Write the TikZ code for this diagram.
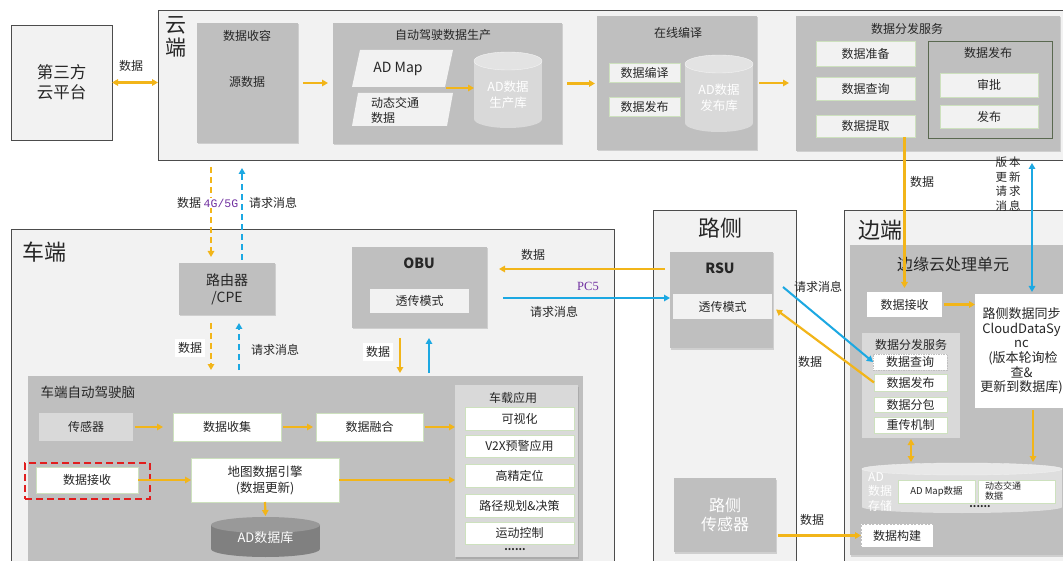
\documentclass[tikz,border=0pt]{standalone}
\usepackage{fontspec}
\setmainfont{Noto Sans CJK SC}
\newfontfamily\monof{Liberation Mono}
\newfontfamily\seriff{Liberation Serif}
\usetikzlibrary{fit,shadows,arrows.meta}
\definecolor{ora}{RGB}{242,181,25}
\definecolor{blu}{RGB}{28,168,226}
\definecolor{regfill}{RGB}{242,242,242}
\definecolor{gbox}{RGB}{191,191,191}
\definecolor{lbox}{RGB}{217,217,217}
\definecolor{itemb}{RGB}{205,225,190}
\definecolor{txt}{RGB}{38,38,38}
\definecolor{purp}{RGB}{112,48,160}
\definecolor{reddash}{RGB}{225,30,30}
\definecolor{fbgreen}{RGB}{90,105,80}
\begin{document}
\begin{tikzpicture}[x=1pt,y=-1pt, font=\fontsize{12}{14}\selectfont, text=txt,
 bx/.style={inner sep=0pt, outer sep=0pt},
 lblin/.style={align=center, inner sep=0pt, text=txt},
 tx/.style={label={[lblin]center:#1}},
 region/.style={bx, draw=black!70, line width=0.7pt, fill=regfill},
 shad/.style={drop shadow={shadow xshift=1pt, shadow yshift=-1.5pt, opacity=0.3}},
 gbx/.style={bx, fill=gbox, shad},
 lbx/.style={bx, fill=lbox},
 itm/.style={bx, fill=white, draw=itemb, line width=0.8pt},
 citm/.style={bx, fill=regfill, draw=itemb, line width=0.8pt},
 oarr/.style={draw=ora, line width=2.2pt, -{Triangle[length=6pt,width=6.5pt]}},
 oboth/.style={draw=ora, line width=2.2pt, {Triangle[length=6pt,width=6.5pt]}-{Triangle[length=6pt,width=6.5pt]}},
 barr/.style={draw=blu, line width=2pt, -{Triangle[length=6pt,width=6.5pt]}},
 bboth/.style={draw=blu, line width=2pt, {Triangle[length=6pt,width=6.5pt]}-{Triangle[length=6pt,width=6.5pt]}},
 odash/.style={oarr, dash pattern=on 6pt off 4pt},
 bdash/.style={barr, dash pattern=on 6pt off 4pt},
 lbl/.style={inner sep=1pt},
 big/.style={font=\fontsize{22}{24}\selectfont},
]
\path[use as bounding box] (0,0) rectangle (1063,561);
\clip (0,0) rectangle (1063,561);
\fill[white] (0,0) rectangle (1063,561);

% ---------------- cloud ----------------
\node[region, fit={(158,10)(1075,160)}] (cloud) {};
\node[font=\fontsize{21}{23}\selectfont, align=center, anchor=north, inner sep=0pt] (cloudlbl) at (176,16) {云\\端};
\node[region, shad, fit={(11,25)(112,140)}, label={[lblin, font=\fontsize{16.5}{20}\selectfont]center:{第三方\\云平台}}] (third) {};
\draw[oboth] (third.east) -- (third.east -| cloud.west);
\node[lbl] (l1) at (131,66) {数据};

\node[gbx, fit={(197,23)(298,143)}] (shourong) {};
\node (shourongT) at (247,36) {数据收容};
\node (yuan) at (247,82) {源数据};

\node[gbx, fit={(333,23)(562,144)}] (adprod) {};
\node (adprodT) at (443,35) {自动驾驶数据生产};
\fill[regfill] (360,50) -- (453,50) -- (445,87) -- (352,87) -- cycle;
\node[font=\fontsize{14}{16}\selectfont] (admap) at (398,69) {AD Map};
\fill[regfill] (358,93) -- (453,93) -- (447,126) -- (352,126) -- cycle;
\node[align=left, anchor=west, inner sep=0pt, font=\fontsize{12}{15}\selectfont] (dyn1) at (371,110) {动态交通\\数据};
\coordinate (parjoin) at (446,88);
\fill[lbox] (474,61) rectangle (542,119);
\fill[lbox] (508,119) ellipse[x radius=34pt, y radius=9pt];
\fill[black!11, draw=white!70!lbox] (508,61) ellipse[x radius=34pt, y radius=9pt];
\node[bx, minimum width=68pt, minimum height=50pt, text=white, align=center, font=\fontsize{12.5}{16}\selectfont] (adprodlib) at (508,95) {AD数据\\生产库};
\draw[oarr] (parjoin) -- (adprodlib.west |- parjoin);

\node[gbx, fit={(597,16)(757,150)}] (compile) {};
\node (compileT) at (678,33) {在线编译};
\node[citm, fit={(609,63)(680,82)}, tx=数据编译] (bianyi) {};
\node[citm, fit={(609,97)(680,116)}, tx=数据发布] (cfabu) {};
\fill[lbox] (685,64) rectangle (753,123);
\fill[lbox] (719,123) ellipse[x radius=34pt, y radius=9pt];
\fill[black!11, draw=white!70!lbox] (719,64) ellipse[x radius=34pt, y radius=9pt];
\node[bx, minimum width=68pt, minimum height=50pt, text=white, align=center, font=\fontsize{12.5}{16}\selectfont] (publib) at (719,98) {AD数据\\发布库};

\node[gbx, fit={(796,16)(1060,151)}] (dist) {};
\node (distT) at (907,29) {数据分发服务};
\node[citm, fit={(816,41)(915,66)}, tx=数据准备] (zhunbei) {};
\node[citm, fit={(816,77)(915,100)}, tx=数据查询] (chaxun) {};
\node[citm, fit={(816,115)(915,137)}, tx=数据提取] (tiqu) {};
\node[bx, draw=fbgreen, line width=0.8pt, fit={(928,41)(1052,138)}] (fbbox) {};
\node (fbT) at (988,53) {数据发布};
\node[citm, fit={(940,73)(1038,97)}, tx=审批] (shenpi) {};
\node[citm, fit={(940,105)(1038,128)}, tx=发布] (fabu) {};

\draw[oarr, shorten <=5pt, shorten >=5pt] (shourong.east) -- (adprod.west |- shourong.east);
\draw[oarr, shorten <=5pt, shorten >=2pt] (adprod.east) -- (compile.west |- adprod.east);
\draw[oarr, shorten <=2pt, shorten >=7pt] (compile.east) -- (dist.west |- compile.east);

% ---------------- car ----------------
\node[region, fit={(11,229)(614,575)}] (car) {};
\node[big] (carlbl) at (45,252) {车端};
\node[gbx, fit={(179,263)(275,315)}, label={[lblin, font=\fontsize{14}{17}\selectfont]center:{路由器\\/CPE}}] (router) {};

\node[gbx, fit={(352,247)(487,328)}] (obu) {};
\node[font=\bfseries\fontsize{14}{16}\selectfont] (obuT) at (419,263) {OBU};
\node[bx, fill=regfill, fit={(370,289)(469,313)}, tx=透传模式] (obumode) {};

\node[bx, fill=gbox, fit={(28,376)(583,575)}] (brain) {};
\node[anchor=west, font=\fontsize{13.5}{15}\selectfont] (brainT) at (37,392) {车端自动驾驶脑};
\node[lbx, fit={(39,413)(133,441)}, tx=传感器] (cgq) {};
\node[itm, fit={(173,413)(281,441)}, tx=数据收集] (collect) {};
\node[itm, fit={(316,413)(423,441)}, tx=数据融合] (fuse) {};
\node[lbx, shad, fit={(455,385)(578,557)}] (apps) {};
\node (appsT) at (513,398) {车载应用};
\node[itm, fit={(465,407)(574,430)}, tx=可视化] (vis) {};
\node[itm, fit={(465,435)(574,457)}, tx=V2X预警应用] (v2x) {};
\node[itm, fit={(465,464)(574,487)}, tx=高精定位] (pos) {};
\node[itm, fit={(465,494)(574,517)}, tx=路径规划\&决策] (plan) {};
\node[itm, fit={(465,522)(574,544)}, tx=运动控制] (ctrl) {};
\node[font=\bfseries\fontsize{10}{10}\selectfont] (dots1) at (515,550) {......};
\node[itm, fit={(36,467)(138,493)}, tx=数据接收] (recv2) {};
\node[bx, draw=reddash, line width=2.2pt, dash pattern=on 7pt off 4pt, fit={(25,463)(150,499)}] (redbox) {};
\node[itm, fit={(191,458)(339,502)}, label={[lblin, font=\fontsize{12.5}{16}\selectfont]center:{地图数据引擎\\(数据更新)}}] (engine) {};
\fill[black!50] (211,525) rectangle (320,549);
\fill[black!50] (265.5,549) ellipse[x radius=54.5pt, y radius=8pt];
\fill[black!40] (265.5,525) ellipse[x radius=54.5pt, y radius=8pt];
\node[bx, minimum width=109pt, minimum height=42pt, text=white, font=\fontsize{13}{15}\selectfont] (addb) at (265.5,538) {AD数据库};

\draw[oarr, shorten <=2pt, shorten >=10pt] (cgq.east) -- (collect.west);
\draw[oarr, shorten <=2pt, shorten >=3pt] (collect.east) -- (fuse.west);
\draw[oarr, shorten <=2pt] (fuse.east) -- (apps.west |- fuse.east);
\draw[oarr] (recv2.east) -- (engine.west);
\draw[oarr] (engine.east) -- (apps.west |- engine.east);
\draw[oarr, shorten >=1pt] (engine.south) -- (addb.north);

% cloud <-> router
\coordinate (rA) at ([xshift=-16pt]router.north);
\coordinate (rB) at ([xshift=15pt]router.north);
\draw[odash, shorten <=7pt, shorten >=6pt] (rA |- cloud.south) -- (rA);
\draw[bdash, shorten <=3pt, shorten >=8pt] (rB) -- (rB |- cloud.south);
\node[lbl] (l2) at (189,203) {数据};
\node[lbl, fill=white, text=purp, font=\monof\fontsize{11.5}{13}\selectfont] (l3) at (221,203) {4G/5G};
\node[lbl] (l4) at (273,203) {请求消息};
% router <-> brain
\coordinate (rC) at ([xshift=-16pt]router.south);
\coordinate (rD) at ([xshift=12pt]router.south);
\draw[odash, shorten <=8pt, shorten >=6pt] (rC) -- (rC |- brain.north);
\draw[bdash, shorten <=6pt, shorten >=8pt] (rD |- brain.north) -- (rD);
\node[lbl, fill=white, inner sep=3pt] (l5) at (190,348) {数据};
\node[lbl] (l6) at (275,350) {请求消息};
% obu <-> brain
\coordinate (xo1) at (400,0);
\coordinate (xo2) at (429,0);
\draw[oarr, shorten <=10pt, shorten >=3pt] (obu.south -| xo1) -- (brain.north -| xo1);
\draw[barr, shorten <=3pt, shorten >=10pt] (brain.north -| xo2) -- (obu.south -| xo2);
\node[lbl, fill=white, inner sep=3pt] (l7) at (378,352) {数据};

% ---------------- roadside ----------------
\node[region, fit={(653,210)(796,575)}] (road) {};
\node[big] (roadlbl) at (720,228) {路侧};
\node[gbx, fit={(670,252)(773,348)}] (rsu) {};
\node[font=\bfseries\fontsize{14}{16}\selectfont] (rsuT) at (720,268) {RSU};
\node[bx, fill=regfill, fit={(673,294)(772,319)}, tx=透传模式] (rsumode) {};
\node[gbx, fit={(674,478)(776,552)}, label={[lblin, text=white, font=\fontsize{16}{19}\selectfont]center:{路侧\\传感器}}] (sensor) {};

\coordinate (yo) at (0,269);
\coordinate (yb) at (0,298);
\draw[oarr, shorten <=5pt, shorten >=12pt] (rsu.west |- yo) -- (obu.east |- yo);
\draw[barr, shorten <=16pt] (obu.east |- yb) -- (rsu.west |- yb);
\node[lbl] (l8) at (533,255) {数据};
\node[lbl, text=purp, font=\seriff\fontsize{12.5}{14}\selectfont] (l9) at (588,286) {PC5};
\node[lbl] (l10) at (554,312) {请求消息};

% ---------------- edge ----------------
\node[region, fit={(844,210)(1075,575)}] (edge) {};
\node[big] (edgelbl) at (880,230) {边端};
\node[gbx, fit={(850,245)(1075,555)}] (ecu) {};
\node[font=\fontsize{16}{18}\selectfont] (ecuT) at (953,264) {边缘云处理单元};
\node[bx, fill=white, fit={(867,292)(942,317)}, tx=数据接收] (recv) {};
\node[bx, fill=white, fit={(975,294)(1068,408)}, label={[lblin, font=\fontsize{13}{14.6}\selectfont]center:{路侧数据同步\\CloudDataSy\\nc\\\ (版本轮询检\\查\&\\更新到数据库)}}] (sync) {};

\node[lbx, fit={(862,333)(960,438)}] (edist) {};
\node (edistT) at (911,345) {数据分发服务};
\node[bx, fill=white, draw=black!25, line width=0.8pt, dash pattern=on 1.5pt off 1pt, fit={(873,354)(947,370)}, tx=数据查询] (echaxun) {};
\node[itm, fit={(874,374)(947,391)}, tx=数据发布] (efabu) {};
\node[itm, fit={(874,397)(947,412)}, tx=数据分包] (efenbao) {};
\node[itm, fit={(874,417)(947,433)}, tx=重传机制] (echuan) {};

\fill[black!13] (862,469) rectangle (1062,507);
\fill[black!13] (962,507) ellipse[x radius=100pt, y radius=6pt];
\fill[black!9, draw=white!60!lbox] (962,469) ellipse[x radius=100pt, y radius=6pt];
\node[bx, minimum width=200pt, minimum height=50pt] (adstore) at (962,488) {};
\node[anchor=west, align=left, text=white, inner sep=0pt, font=\fontsize{12}{14.5}\selectfont] (adsT) at (868,492) {AD\\数据\\存储};
\node[itm, fit={(898,480)(975,503)}, label={[lblin, font=\fontsize{9.5}{11}\selectfont]center:AD Map数据}] (admapd) {};
\node[itm, fit={(978,480)(1055,503)}] (dynd) {};
\node[anchor=west, align=left, inner sep=0pt, font=\fontsize{9}{10.5}\selectfont] (dyndT) at (985,491) {动态交通\\数据};
\node[font=\bfseries\fontsize{10}{10}\selectfont] (dots2) at (980,507) {......};
\node[bx, fill=white, draw=black!25, line width=1pt, dash pattern=on 2pt off 1.5pt, fit={(861,524)(933,547)}, tx=数据构建] (build) {};

% edge connectors
\coordinate (xs) at (1032,0);
\draw[bboth, shorten <=3pt, shorten >=2pt] (cloud.south -| xs) -- (sync.north -| xs);
\node[align=center, font=\fontsize{11.5}{14.7}\selectfont] (vlbl) at (1008,184) {版\hspace{2pt}本\\更\hspace{2pt}新\\请\hspace{2pt}求\\消\hspace{2pt}息};
\draw[oarr, shorten >=4pt] (tiqu.south -| recv.north) -- (recv.north);
\node[lbl] (l11) at (922,182) {数据};
\draw[oarr, shorten <=2pt] (recv.east) -- (sync.west |- recv.east);
\draw[barr] ([shift={(10,-13)}]rsu.east) -- (echaxun.west);
\draw[oarr, shorten >=5pt] (efabu.west) -- (rsumode.east);
\node[lbl] (l12) at (818,287) {请求消息};
\node[lbl] (l13) at (810,362) {数据};
\draw[oboth, shorten <=1pt, shorten >=1pt] (edist.south) -- (edist.south |- adstore.north);
\coordinate (xs2) at (1033,0);
\draw[oarr, shorten <=2pt, shorten >=1pt] (sync.south -| xs2) -- (adstore.north -| xs2);
\draw[oarr, shorten <=2pt] (sensor.east |- build.west) -- (build.west);
\node[lbl] (l14) at (812,520) {数据};
\end{tikzpicture}
\end{document}
